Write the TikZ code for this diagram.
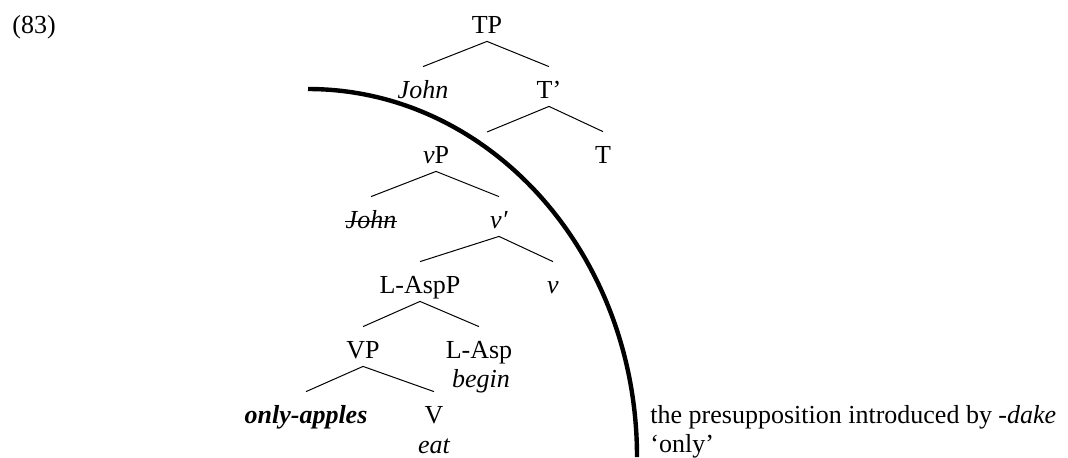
\documentclass[tikz,border=0pt]{standalone}
\usepackage{fontspec}
\setmainfont{Liberation Serif}
\usepackage{tikz}
\usetikzlibrary{positioning}
\tikzset{
  syn/.style={anchor=base, inner sep=0pt, text height=15.5pt, text depth=4pt, font=\fontsize{13}{14.5}\selectfont},
  gls/.style={anchor=base, inner sep=0pt, font=\fontsize{13}{14.5}\selectfont\itshape},
  txt/.style={anchor=base west, inner sep=0pt, font=\fontsize{13}{14.5}\selectfont},
  br/.style={line width=0.5pt},
}

\begin{document}
\begin{tikzpicture}[x=0.5pt, y=-0.5pt]
  \useasboundingbox (0,0) rectangle (1068,457);
  \node[txt] (ex) at (12,33) {(83)};
  \node[syn] (TP)  at (487,33)  {TP};
  \node[syn] (J1)  at (423,98)  {\textit{John}};
  \node[syn] (Tb)  at (549,98)  {T'};
  \node[syn] (vP)  at (436,163) {\textit{v}P};
  \node[syn] (T)   at (603,163) {T};
  \node[syn] (J2)  at (371,228) {\textit{John}};
  \node[syn] (vb)  at (499,228) {\textit{v′}};
  \node[syn] (LAP) at (420,293) {L-AspP};
  \node[syn] (v)   at (553,293) {\textit{v}};
  \node[syn] (VP)  at (363,358) {VP};
  \node[syn] (LA)  at (479,358) {L-Asp};
  \node[gls] (beg) at (481,387) {begin};
  \node[syn] (OA)  at (306,423) {\textbf{\textit{only-apples}}};
  \node[syn] (V)   at (434,423) {V};
  \node[gls] (eat) at (434,453) {eat};
  \node[txt] (ps)  at (650,423) {the presupposition introduced by \textit{-dake}};
  \node[txt] (on)  at (650,452) {`only'};
  \coordinate (tl) at (487,132);
  \foreach \a/\b in {TP/J1,TP/Tb,Tb/T,vP/J2,vP/vb,vb/LAP,vb/v,LAP/VP,LAP/LA,VP/OA,VP/V}
    \draw[br] (\a.south) -- (\b.north);
  \draw[br] (Tb.south) -- (tl);
  \draw[br] ([yshift=3.5pt]J2.base west) -- ([yshift=3.5pt]J2.base east);
  % scope of the presupposition
  \draw[line width=2.2pt] (308,89) arc[start angle=-90, end angle=0, x radius=329, y radius=368];
\end{tikzpicture}
\end{document}
